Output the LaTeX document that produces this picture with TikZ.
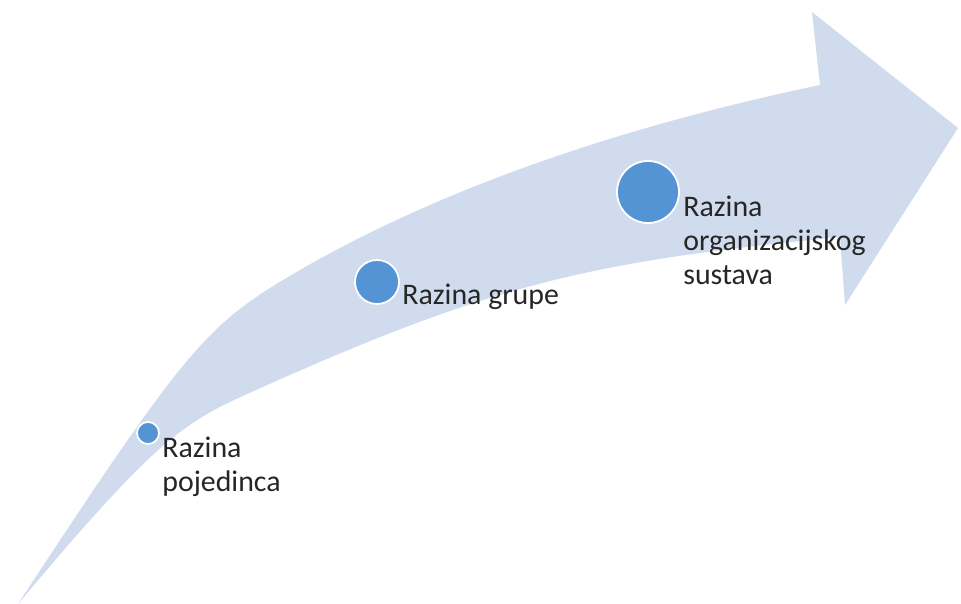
\documentclass[tikz,border=0pt]{standalone}
\usepackage{fontspec}
\setmainfont{Carlito}
\usepackage{tikz}

\definecolor{arrowblue}{RGB}{208,220,238}
\definecolor{dotblue}{RGB}{84,148,213}
\definecolor{textgray}{RGB}{38,38,38}

\tikzset{
    levelcircle/.style={circle, fill=dotblue, draw=white, line width=1pt, inner sep=0pt},
    leveltext/.style={text=textgray, font=\fontsize{17}{19.5}\selectfont, inner sep=0pt, align=left, anchor=base west}
}

\begin{document}
\begin{tikzpicture}[x=0.02cm, y=-0.02cm]
    \useasboundingbox (0,0) rectangle (961,604);

    % curved arrow
    \fill[arrowblue]
    (18,604) .. controls (180,357) and (205,327) .. (283,280)
    .. controls (433,190) and (620,127) .. (820,85)
    -- (812,12) -- (958,128) -- (845,305) -- (840,237)
    .. controls (590,262) and (495,282) .. (245,395)
    .. controls (180,424) and (149,448) .. (18,604)
    -- cycle;

    \path
    (148,433)node[levelcircle, minimum size=0.44cm](p1){}
    (162,492)node[leveltext](t1){Razina\\pojedinca}

    (377,282)node[levelcircle, minimum size=0.88cm](p2){}
    (402,305)node[leveltext](t2){Razina grupe}

    (648,192)node[levelcircle, minimum size=1.24cm](p3){}
    (683,285)node[leveltext](t3){Razina\\organizacijskog\\sustava}
    ;
\end{tikzpicture}
\end{document}
